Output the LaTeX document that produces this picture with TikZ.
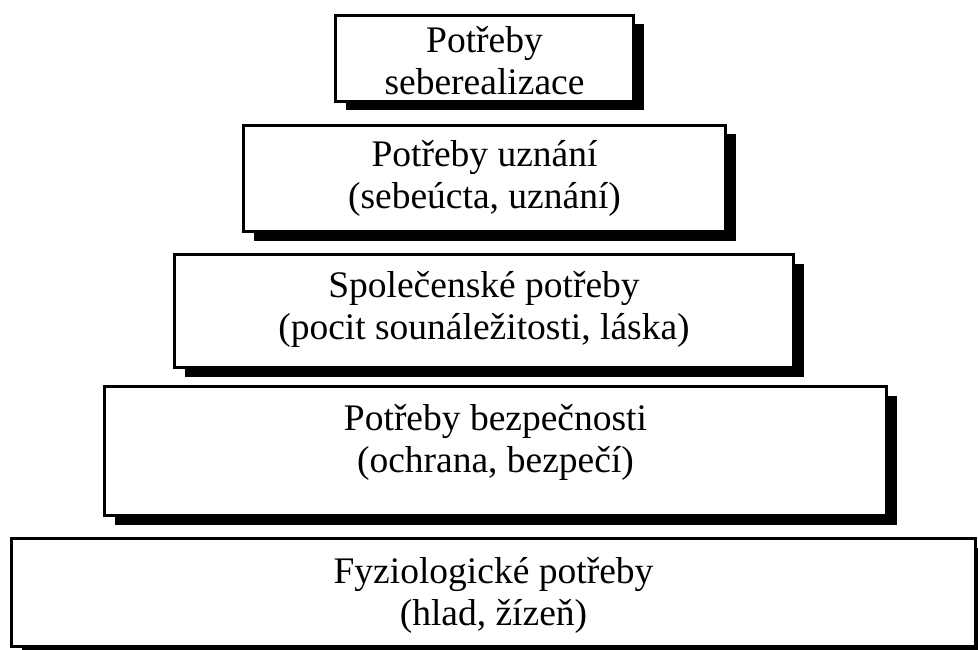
\documentclass[tikz,border=0pt]{standalone}
\usepackage{fontspec}
\setmainfont{Liberation Serif}
\usetikzlibrary{shadows}
\begin{document}
\begin{tikzpicture}[x=1pt,y=-1pt,
  level/.style={draw=black, line width=3pt, fill=white, inner sep=0pt,
    drop shadow={shadow xshift=10pt, shadow yshift=-9pt, fill=black, opacity=1}},
  caption/.style={align=center, inner sep=0pt, font=\fontsize{37.5}{42}\selectfont},
]
\useasboundingbox (0,0) rectangle (978,650);
% pyramid of needs, top to bottom
\node[level, minimum width=298pt, minimum height=86pt] (selfreal) at (484.5,58.5) {};
\node[level, minimum width=482pt, minimum height=106pt] (esteem) at (484.5,178.5) {};
\node[level, minimum width=619pt, minimum height=113pt] (social) at (484,311) {};
\node[level, minimum width=782pt, minimum height=129pt] (safety) at (495.5,451) {};
\node[level, minimum width=964pt, minimum height=108pt] (physio) at (493.5,592.5) {};
% captions
\node[caption] (selfrealtext) at ([yshift=-2pt]selfreal.center) {Potřeby\\seberealizace};
\node[caption] (esteemtext) at ([yshift=0pt]esteem.center) {Potřeby uznání\\(sebeúcta, uznání)};
\node[caption] (socialtext) at ([yshift=2pt]social.center) {Společenské potřeby\\(pocit sounáležitosti, láska)};
\node[caption] (safetytext) at ([yshift=9pt]safety.center) {Potřeby bezpečnosti\\(ochrana, bezpečí)};
\node[caption] (physiotext) at ([yshift=-3pt]physio.center) {Fyziologické potřeby\\(hlad, žízeň)};
\end{tikzpicture}
\end{document}
